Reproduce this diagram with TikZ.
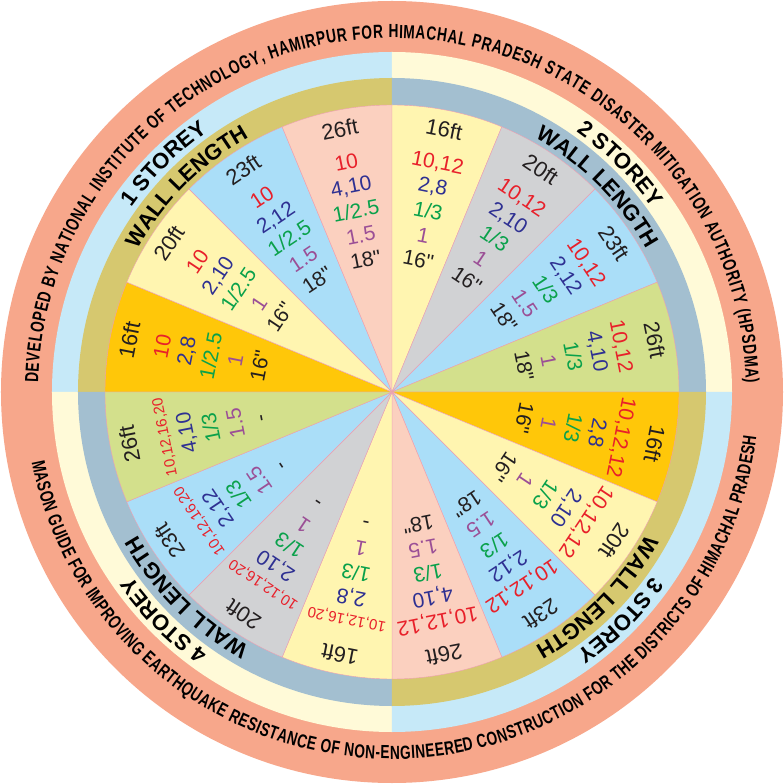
\documentclass[tikz,border=0pt]{standalone}
\usepackage{fontspec}
\usetikzlibrary{decorations.text}

\newfontfamily\sansfam{Liberation Sans}
\newfontfamily\rimfam{Liberation Sans}[FakeStretch=0.72]

\newcommand{\ftfont}{\sansfam\fontsize{22}{22}\selectfont}
\newcommand{\valfont}{\sansfam\fontsize{21}{21}\selectfont}
\newcommand{\smallval}{\fontsize{15}{15}\selectfont}
\newcommand{\storeyfont}{\sansfam\bfseries\fontsize{22}{22}\selectfont}
\newcommand{\rimfont}{\rimfam\bfseries\fontsize{19}{19}\selectfont}

% colours
\definecolor{rimsalmon}{HTML}{F7A78B}
\definecolor{ringblue}{HTML}{C6E9F8}
\definecolor{ringyellow}{HTML}{FFFAD8}
\definecolor{bandgold}{HTML}{D6C86F}
\definecolor{bandgrey}{HTML}{A3BFD0}
\definecolor{cellgold}{HTML}{FFC709}
\definecolor{cellyellow}{HTML}{FFF5B0}
\definecolor{cellblue}{HTML}{AADEF8}
\definecolor{cellpink}{HTML}{FBD0BF}
\definecolor{cellgrey}{HTML}{D1D2D4}
\definecolor{cellgreen}{HTML}{D3E08C}
\definecolor{sliceline}{HTML}{EE9FB2}
\definecolor{tred}{HTML}{E8202A}
\definecolor{tblue}{HTML}{2E3092}
\definecolor{tgreen}{HTML}{0AA14B}
\definecolor{tpurple}{HTML}{9B4F96}
\definecolor{inkblack}{HTML}{231F20}

% one slice of the wheel: name, start angle, fill, length, then the five rows
\newcommand{\wallcell}[9]{%
  \pgfmathsetmacro{\cellmid}{#2+11.25}%
  \pgfmathsetmacro{\cellrot}{#2+11.25-90}%
  \filldraw[slice, fill=#3] (0,0) -- (#2:287) arc[start angle=#2, end angle=#2+22.5, radius=287] -- cycle;
  \node[ftlabel, rotate=\cellrot] (#1-ft) at (\cellmid:260) {#4};
  \node[val, text=tred, rotate=\cellrot] (#1-r) at (\cellmid:227) {#5};
  \node[val, text=tblue, rotate=\cellrot] (#1-b) at (\cellmid:202.5) {#6};
  \node[val, text=tgreen, rotate=\cellrot] (#1-g) at (\cellmid:177.5) {#7};
  \node[val, text=tpurple, rotate=\cellrot] (#1-p) at (\cellmid:152.5) {#8};
  \node[val, text=inkblack, rotate=\cellrot] (#1-k) at (\cellmid:127.5) {#9};
}

\begin{document}
\begin{tikzpicture}[
    x=1pt, y=1pt,
    slice/.style={draw=sliceline, line width=0.4pt},
    ftlabel/.style={font=\ftfont, text=inkblack, inner sep=0pt, anchor=base},
    val/.style={font=\valfont, inner sep=0pt, anchor=base},
    storeyarc/.style={decorate, decoration={text along path, text align=center, text={|\storeyfont|#1}}},
    rimarc/.style={decorate, decoration={text along path, text align={fit to path}, text={|\rimfont|#1}}}
]
\useasboundingbox (-392,-392) rectangle (392,392);
\fill[white] (-392,-392) rectangle (392,392);

% Rings
\fill[rimsalmon] (0,0) circle[radius=391];
\fill[ringblue] (0,0) -- (90:340) arc[start angle=90, end angle=180, radius=340] -- cycle;
\fill[ringyellow] (0,0) -- (0:340) arc[start angle=0, end angle=90, radius=340] -- cycle;
\fill[ringyellow] (0,0) -- (180:340) arc[start angle=180, end angle=270, radius=340] -- cycle;
\fill[ringblue] (0,0) -- (270:340) arc[start angle=270, end angle=360, radius=340] -- cycle;
\fill[bandgold] (0,0) -- (90:314) arc[start angle=90, end angle=180, radius=314] -- cycle;
\fill[bandgrey] (0,0) -- (0:314) arc[start angle=0, end angle=90, radius=314] -- cycle;
\fill[bandgrey] (0,0) -- (180:314) arc[start angle=180, end angle=270, radius=314] -- cycle;
\fill[bandgold] (0,0) -- (270:314) arc[start angle=270, end angle=360, radius=314] -- cycle;

% 1 storey
\wallcell{one16}{157.5}{cellgold}{16ft}{10}{2,8}{1/2.5}{1}{16"}
\wallcell{one20}{135}{cellyellow}{20ft}{10}{2,10}{1/2.5}{1}{16"}
\wallcell{one23}{112.5}{cellblue}{23ft}{10}{2,12}{1/2.5}{1.5}{18"}
\wallcell{one26}{90}{cellpink}{26ft}{10}{4,10}{1/2.5}{1.5}{18"}

% 2 storey
\wallcell{two16}{67.5}{cellyellow}{16ft}{10,12}{2,8}{1/3}{1}{16"}
\wallcell{two20}{45}{cellgrey}{20ft}{10,12}{2,10}{1/3}{1}{16"}
\wallcell{two23}{22.5}{cellblue}{23ft}{10,12}{2,12}{1/3}{1.5}{18"}
\wallcell{two26}{0}{cellgreen}{26ft}{10,12}{4,10}{1/3}{1}{18"}

% 3 storey
\wallcell{three16}{-22.5}{cellgold}{16ft}{10,12,12}{2,8}{1/3}{1}{16"}
\wallcell{three20}{-45}{cellyellow}{20ft}{10,12,12}{2,10}{1/3}{1}{16"}
\wallcell{three23}{-67.5}{cellblue}{23ft}{10,12,12}{2,12}{1/3}{1.5}{18"}
\wallcell{three26}{-90}{cellpink}{26ft}{10,12,12}{4,10}{1/3}{1.5}{18"}

% 4 storey
\wallcell{four16}{-112.5}{cellyellow}{16ft}{\smallval 10,12,16,20}{2,8}{1/3}{1}{-}
\wallcell{four20}{-135}{cellgrey}{20ft}{\smallval 10,12,16,20}{2,10}{1/3}{1}{-}
\wallcell{four23}{-157.5}{cellblue}{23ft}{\smallval 10,12,16,20}{2,12}{1/3}{1.5}{-}
\wallcell{four26}{-180}{cellgreen}{26ft}{\smallval 10,12,16,20}{4,10}{1/3}{1.5}{-}

% Storey titles
\path[storeyarc={1 STOREY}] (165:319) arc[start angle=165, end angle=105, radius=319];
\path[storeyarc={WALL LENGTH}] (170:292) arc[start angle=170, end angle=100, radius=292];
\path[storeyarc={2 STOREY}] (75:319) arc[start angle=75, end angle=15, radius=319];
\path[storeyarc={WALL LENGTH}] (80:292) arc[start angle=80, end angle=10, radius=292];
\path[storeyarc={3 STOREY}] (-15:319) arc[start angle=-15, end angle=-75, radius=319];
\path[storeyarc={WALL LENGTH}] (-10:292) arc[start angle=-10, end angle=-80, radius=292];
\path[storeyarc={4 STOREY}] (-105:319) arc[start angle=-105, end angle=-165, radius=319];
\path[storeyarc={WALL LENGTH}] (-100:292) arc[start angle=-100, end angle=-170, radius=292];

% Rim text
\path[rimarc={DEVELOPED BY NATIONAL INSTITUTE OF TECHNOLOGY, HAMIRPUR FOR HIMACHAL PRADESH STATE DISASTER MITIGATION AUTHORITY (HPSDMA)}]
    (178.5:354) arc[start angle=178.5, end angle=1.5, radius=354];
\path[rimarc={MASON GUIDE FOR IMPROVING EARTHQUAKE RESISTANCE OF NON-ENGINEERED CONSTRUCTION FOR THE DISTRICTS OF HIMACHAL PRADESH}]
    (-169:367) arc[start angle=-169, end angle=-7, radius=367];

\end{tikzpicture}
\end{document}
